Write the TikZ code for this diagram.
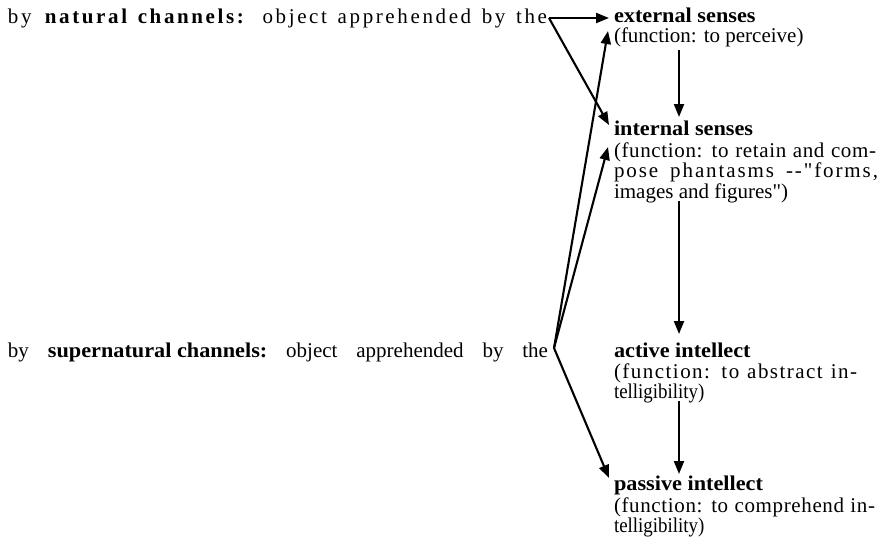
\documentclass[tikz,border=0pt]{standalone}
\usepackage{fontspec}
\setmainfont{Liberation Serif}[Ligatures=TeXOff]
\usetikzlibrary{arrows.meta}
\tikzset{
  txt/.style={anchor=base west, inner sep=0pt, outer sep=0pt,
    font=\fontsize{21}{23}\selectfont},
  flow/.style={line width=2.1pt, -{Triangle[length=13pt,width=10pt]}},
}
% justified line of given width, with extra letter spacing
\newcommand{\jline}[3]{{\addfontfeature{LetterSpace=#2}\makebox[#1pt][s]{#3}}}
% slightly extended bold heading
\newcommand{\hd}[1]{\scalebox{1.06}[1]{\textbf{#1}}}
\begin{document}
\begin{tikzpicture}[x=1pt,y=-1pt]
\useasboundingbox (0,0) rectangle (896,542);

% left-hand statements
\node[txt] (nat) at (8,23) {\jline{539}{12.5}{by \textbf{natural channels:} object apprehended by the}};
\node[txt] (sup) at (8,357) {\jline{540}{0}{by \hd{supernatural channels:} object apprehended by the}};

% right-hand column
\node[txt] (ext) at (614,22) {\hd{external senses}};
\node[txt] (ext1) at (614,42) {(function: to perceive)};

\node[txt] (int) at (614,135) {\hd{internal senses}};
\node[txt] (int1) at (614,157) {\jline{262}{3}{(function: to retain and com-}};
\node[txt] (int2) at (614,177) {\jline{264}{9}{pose phantasms --"forms,}};
\node[txt] (int3) at (614,198) {images and figures")};

\node[txt] (act) at (614,357) {\hd{active intellect}};
\node[txt] (act1) at (614,378) {\jline{243}{7}{(function: to abstract in-}};
\node[txt] (act2) at (614,398) {\scalebox{0.9}[1]{telligibility)}};

\node[txt] (pas) at (614,490) {\hd{passive intellect}};
\node[txt] (pas1) at (614,512) {\jline{261}{3}{(function: to comprehend in-}};
\node[txt] (pas2) at (614,532) {\scalebox{0.9}[1]{telligibility)}};

% branching points and arrow ends
\coordinate (nv) at (549,18);
\coordinate (sv) at (554,348);
\coordinate (extL) at (609,18);
\coordinate (extL1) at (608,31);
\coordinate (intL) at (609,125);
\coordinate (intL1) at (608,147);
\coordinate (pasL) at (609,478);
\coordinate (c1a) at (679,50);
\coordinate (c1b) at (679,117);
\coordinate (c2a) at (679,201);
\coordinate (c2b) at (679,334);
\coordinate (c3a) at (679,401);
\coordinate (c3b) at (679,474);

% natural channels
\draw[flow] (nv) -- (extL);
\draw[flow] (nv) -- (intL);

% supernatural channels
\draw[flow] (sv) -- (extL1);
\draw[flow] (sv) -- (intL1);
\draw[flow] (sv) -- (pasL);

% succession of the faculties
\draw[flow] (c1a) -- (c1b);
\draw[flow] (c2a) -- (c2b);
\draw[flow] (c3a) -- (c3b);
\end{tikzpicture}
\end{document}
